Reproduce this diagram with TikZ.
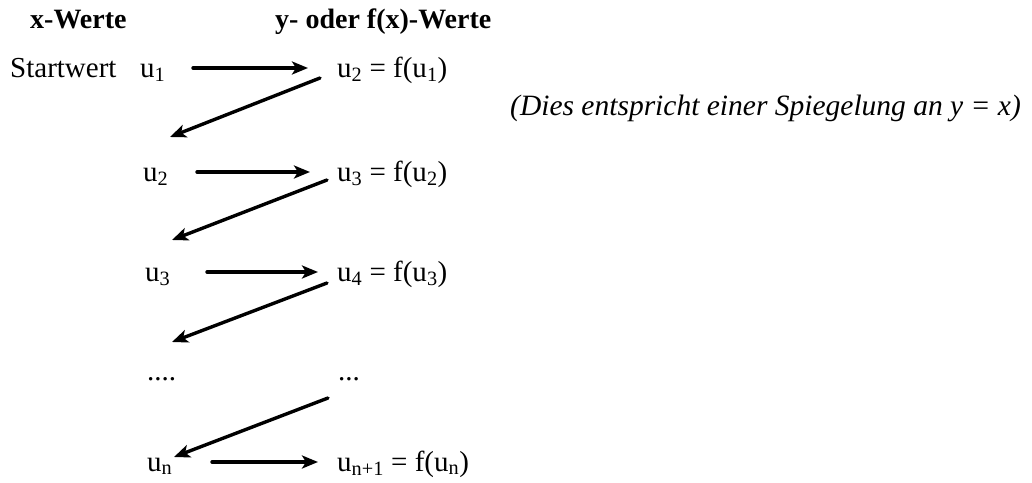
\documentclass[tikz,border=0pt]{standalone}
\usepackage{fontspec}
\setmainfont{Liberation Serif}
\usetikzlibrary{arrows.meta}

\begin{document}
\begin{tikzpicture}[x=1pt,y=-1pt,line cap=round,line join=round,
  >={Stealth[length=16pt,width=13pt,inset=4pt]},
  every node/.style={inner sep=0pt,anchor=base west,font=\fontsize{29}{34}\selectfont},
  arr/.style={->,line width=3.4pt},
  head/.style={font=\fontsize{28}{33}\selectfont\bfseries}]
  \useasboundingbox (0,0) rectangle (1032,482);
  % column titles
  \node[head] (tx) at (30,28) {x-Werte};
  \node[head] (ty) at (275,28) {y- oder f(x)-Werte};
  % rows
  \node (start) at (10,77) {Startwert};
  \node (u1) at (140,77) {u\textsubscript{1}};
  \node (f1) at (337,77) {u\textsubscript{2} = f(u\textsubscript{1})};
  \node (u2) at (143,181) {u\textsubscript{2}};
  \node (f2) at (337,181) {u\textsubscript{3} = f(u\textsubscript{2})};
  \node (u3) at (145,281) {u\textsubscript{3}};
  \node (f3) at (337,281) {u\textsubscript{4} = f(u\textsubscript{3})};
  \node (dl) at (147,380) {....};
  \node (dr) at (338,380) {...};
  \node (un) at (147,471) {u\textsubscript{n}};
  \node (fn) at (337,471) {u\textsubscript{n+1} = f(u\textsubscript{n})};
  \node[font=\fontsize{29.5}{34}\selectfont\itshape] (note) at (510,115) {(Dies entspricht einer Spiegelung an y = x)};
  % x -> f(x)
  \draw[arr] ([xshift=53pt,yshift=9pt]u1.base west) -- ([xshift=-29pt,yshift=9pt]f1.base west);
  \draw[arr] ([xshift=54pt,yshift=9pt]u2.base west) -- ([xshift=-27pt,yshift=9pt]f2.base west);
  \draw[arr] ([xshift=62pt,yshift=9pt]u3.base west) -- ([xshift=-19pt,yshift=9pt]f3.base west);
  \draw[arr] ([xshift=65pt,yshift=9pt]un.base west) -- ([xshift=-19pt,yshift=9pt]fn.base west);
  % f(x) -> next x
  \draw[arr] ([xshift=-17pt,yshift=-1pt]f1.base west) -- ([xshift=27pt,yshift=44pt]u2.base west);
  \draw[arr] ([xshift=-10pt,yshift=1pt]f2.base west) -- ([xshift=27pt,yshift=41pt]u3.base west);
  \draw[arr] ([xshift=-10pt,yshift=-2pt]f3.base west) -- ([xshift=25pt,yshift=38pt]dl.base west);
  \draw[arr] ([xshift=-10pt,yshift=-18pt]dr.base west) -- ([xshift=27pt,yshift=14pt]un.base west);
\end{tikzpicture}
\end{document}
